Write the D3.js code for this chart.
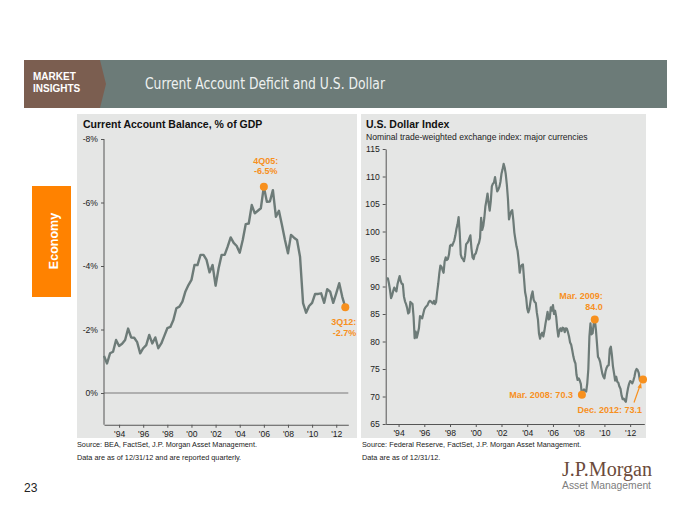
<!DOCTYPE html>
<html><head><meta charset="utf-8">
<script src="https://cdn.jsdelivr.net/npm/d3@7"></script>
<style>
body{margin:0;background:#fff}
svg{display:block}
text{font-family:"Liberation Sans",Arial,Helvetica,sans-serif}
</style>
</head><body>
<svg id="c" width="700" height="525"></svg>
<script>
// ---------- DATA ----------
// Current account balance, % of GDP, quarterly (first point 3Q92, last 3Q12)
const caFirstQuarter = {year: 1992, quarter: 3};
const caValues = [
 -1.17,-0.93,-1.25,-1.30,-1.67,-1.48,-1.55,-1.67,-2.03,-1.75,
 -1.74,-1.60,-1.25,-1.41,-1.51,-1.83,-1.56,-1.75,-1.41,-1.56,
 -1.80,-2.04,-2.08,-2.30,-2.67,-2.72,-2.88,-3.20,-3.40,-3.56,
 -4.03,-4.03,-4.35,-4.35,-4.19,-3.80,-4.03,-3.38,-3.93,-4.35,
 -4.35,-4.61,-4.90,-4.73,-4.63,-4.42,-4.82,-5.32,-5.34,-5.92,
 -5.66,-5.74,-5.82,-6.50,-6.02,-6.03,-6.39,-5.55,-5.74,-5.29,
 -4.82,-4.40,-4.98,-4.89,-4.82,-4.29,-2.83,-2.53,-2.74,-2.84,
 -3.12,-3.12,-3.14,-2.84,-3.27,-3.19,-2.84,-3.14,-3.46,-3.03,
 -2.70
];
const caYTicks = [-8, -6, -4, -2, 0];
const caAnnotations = [
  {lines: ["4Q05:", "-6.5%"], index: 53},
  {lines: ["3Q12:", "-2.7%"], index: 80}
];

// U.S. dollar index (major currencies), monthly Jan 1993 - Dec 2012
const usdFirstYear = 1993;
const usd1993 = [91.5,91.5,90.6,89.4,87.9,88.4,89.2,89.8,89.4,89.1,90.4,91.2];
const usd1994 = [91.9,91.0,90.5,90.4,88.2,87.3,86.8,86.1,85.1,85.3,87.2,87.0];
const usd1995 = [86.8,84.5,80.6,81.8,80.7,81.5,82.4,84.6,84.5,84.2,85.0,85.8];
const usd1996 = [86.2,86.4,86.6,87.1,87.4,87.3,87.1,86.9,87.4,86.8,87.2,89.0];
const usd1997 = [90.5,92.4,93.8,93.6,93.0,92.5,94.6,95.3,94.8,95.0,95.8,97.4];
const usd1998 = [97.6,97.4,97.9,98.4,99.3,100.5,101.3,102.6,99.9,95.8,95.2,95.0];
const usd1999 = [94.6,95.6,97.7,97.9,98.2,98.8,99.3,96.9,95.3,95.0,95.8,96.0];
const usd2000 = [96.7,97.5,97.9,98.8,102.5,100.3,101.0,102.5,104.6,105.7,106.9,105.1];
const usd2001 = [103.8,105.5,108.2,108.7,108.9,109.9,108.5,107.3,107.6,108.1,109.0,110.5];
const usd2002 = [111.3,112.3,111.6,110.4,108.5,106.0,102.2,103.0,103.6,103.9,102.1,99.8];
const usd2003 = [98.5,97.3,96.5,94.8,92.5,93.6,93.9,94.0,91.5,89.0,88.0,86.0];
const usd2004 = [85.3,85.9,87.2,88.4,89.1,87.6,87.2,87.0,85.2,84.0,81.4,80.5];
const usd2005 = [81.3,81.6,80.9,81.9,83.2,84.3,85.4,84.0,84.2,86.2,85.6,86.6];
const usd2006 = [85.0,85.6,84.5,82.4,80.9,82.0,82.4,81.9,82.5,82.4,81.7,82.4];
const usd2007 = [82.3,81.7,80.9,79.8,79.4,78.4,77.3,76.5,76.0,73.9,73.0,73.3];
const usd2008 = [72.9,72.3,70.3,71.0,71.3,71.0,70.9,72.4,75.0,80.9,83.3,81.3];
const usd2009 = [81.5,83.2,84.0,82.3,79.8,77.2,76.9,76.3,75.2,74.2,73.6,73.3];
const usd2010 = [74.5,75.2,75.6,75.7,78.6,79.05,77.5,75.4,74.2,72.9,73.6,72.7];
const usd2011 = [72.5,71.8,71.4,70.2,69.5,69.6,69.3,69.05,70.4,71.5,72.3,72.8];
const usd2012 = [72.7,72.4,72.9,73.6,74.6,75.0,74.8,74.3,73.0,72.8,73.2,73.1];
const usdYears = [usd1993,usd1994,usd1995,usd1996,usd1997,usd1998,usd1999,usd2000,
  usd2001,usd2002,usd2003,usd2004,usd2005,usd2006,usd2007,usd2008,usd2009,usd2010,usd2011,usd2012];
const usdYTicks = [65,70,75,80,85,90,95,100,105,110,115];
const usdAnnotations = [
  {text: ["Mar. 2008: 70.3"], year: 2008, month: 3},
  {text: ["Mar. 2009:", "84.0"], year: 2009, month: 3},
  {text: ["Dec. 2012: 73.1"], year: 2012, month: 12}
];

const yearTicks = [1994,1996,1998,2000,2002,2004,2006,2008,2010,2012];

// ---------- STYLE ----------
const LINE = "#6d7b78", ORANGE = "#f7901e", PANEL = "#e5e6e5";

const svg = d3.select("#c");

// Header
svg.append("rect").attr("x",24).attr("y",60).attr("width",643).attr("height",48).attr("fill","#6c7b78");
svg.append("path").attr("d","M24,60H100L106,84L100,108H24Z").attr("fill","#7b5e50");
svg.append("text").attr("x",33).attr("y",80).text("MARKET")
  .attr("fill","#fff").attr("font-size",10).attr("font-weight","bold");
svg.append("text").attr("x",33).attr("y",92).text("INSIGHTS")
  .attr("fill","#fff").attr("font-size",10).attr("font-weight","bold");
svg.append("text").attr("x",145).attr("y",89).text("Current Account Deficit and U.S. Dollar")
  .attr("fill","#eef1f0").attr("font-size",16)
  .style("font-family","'Liberation Sans Narrow','DejaVu Sans Condensed','Open Sans',sans-serif")
  .attr("textLength",240).attr("lengthAdjust","spacingAndGlyphs");

// Orange side tab
svg.append("rect").attr("x",32).attr("y",186).attr("width",39).attr("height",111).attr("fill","#ff8200");
svg.append("text").attr("transform","translate(58,241) rotate(-90)").attr("text-anchor","middle")
  .attr("fill","#fff").attr("font-size",12.5).attr("font-weight","bold").text("Economy");

// Panels
svg.append("rect").attr("x",77).attr("y",114).attr("width",280).attr("height",324).attr("fill",PANEL);
svg.append("rect").attr("x",361).attr("y",114).attr("width",285).attr("height",324).attr("fill",PANEL);

// ---------- LEFT CHART ----------
const caData = caValues.map((v,i) => ({
  t: caFirstQuarter.year + caFirstQuarter.quarter/4 + i/4, v
}));
const xCA = d3.scaleLinear().domain([1992.75, 2013.0]).range([104, 348.3]);
const yCA = d3.scaleLinear().domain([1, -8]).range([424.75, 139]);

const gL = svg.append("g");
gL.append("text").attr("x",83).attr("y",128).text("Current Account Balance, % of GDP")
  .attr("font-size",10.5).attr("font-weight","bold").attr("fill","#111");

gL.append("line").attr("x1",xCA.range()[0]).attr("x2",xCA.range()[1])
  .attr("y1",yCA(0)).attr("y2",yCA(0)).attr("stroke","#9c9c9c").attr("stroke-width",1.5);

const axYL = gL.append("g").attr("transform",`translate(${xCA.range()[0]},0)`)
  .call(d3.axisLeft(yCA).tickValues(caYTicks).tickFormat(d => d + "%").tickSize(3).tickSizeOuter(0));
axYL.select(".domain").attr("d",`M0,${yCA(-8)}V${yCA.range()[0]}`);
const axXL = gL.append("g").attr("transform",`translate(0,${yCA.range()[0]})`)
  .call(d3.axisBottom(xCA).tickValues(yearTicks).tickFormat(d => "'" + String(d).slice(2)).tickSize(3).tickSizeOuter(0));

gL.append("path").datum(caData)
  .attr("d", d3.line().x(d => xCA(d.t)).y(d => yCA(d.v)))
  .attr("fill","none").attr("stroke",LINE).attr("stroke-width",2.4).attr("stroke-linejoin","round");

caAnnotations.forEach((a, k) => {
  const d = caData[a.index];
  gL.append("circle").attr("cx",xCA(d.t)).attr("cy",yCA(d.v)).attr("r",4).attr("fill",ORANGE);
  const t = gL.append("text").attr("fill",ORANGE).attr("font-size",9).attr("font-weight","bold");
  if (k === 0) {
    t.attr("text-anchor","middle");
    a.lines.forEach((s,j) => t.append("tspan").attr("x",xCA(d.t)+2).attr("y",yCA(d.v)-23+j*10.5).text(s));
  } else {
    t.attr("text-anchor","end");
    a.lines.forEach((s,j) => t.append("tspan").attr("x",xCA(d.t)+11).attr("y",yCA(d.v)+18+j*11).text(s));
  }
});

gL.append("text").attr("x",77).attr("y",447).text("Source: BEA, FactSet, J.P. Morgan Asset Management.")
  .attr("font-size",7.3).attr("fill","#222");
gL.append("text").attr("x",77).attr("y",460).text("Data are as of 12/31/12 and are reported quarterly.")
  .attr("font-size",7.3).attr("fill","#222");

// ---------- RIGHT CHART ----------
const usdData = [];
usdYears.forEach((arr, yi) => arr.forEach((v, mi) => {
  usdData.push({year: usdFirstYear + yi, month: mi + 1, t: usdFirstYear + yi + (mi + 1)/12, v});
}));
const xUS = d3.scaleLinear().domain([1993.0, 2013.1]).range([385.7, 644.3]);
const yUS = d3.scaleLinear().domain([65, 115]).range([424, 149]);

const gR = svg.append("g");
gR.append("text").attr("x",366).attr("y",128).text("U.S. Dollar Index")
  .attr("font-size",10.5).attr("font-weight","bold").attr("fill","#111");
gR.append("text").attr("x",366).attr("y",140).text("Nominal trade-weighted exchange index: major currencies")
  .attr("font-size",8.6).attr("fill","#222");

gR.append("g").attr("transform",`translate(${xUS.range()[0]},0)`)
  .call(d3.axisLeft(yUS).tickValues(usdYTicks).tickSize(3).tickSizeOuter(0));
gR.append("g").attr("transform",`translate(0,${yUS.range()[0]})`)
  .call(d3.axisBottom(xUS).tickValues(yearTicks).tickFormat(d => "'" + String(d).slice(2)).tickSize(3).tickSizeOuter(0));

gR.append("path").datum(usdData)
  .attr("d", d3.line().x(d => xUS(d.t)).y(d => yUS(d.v)))
  .attr("fill","none").attr("stroke",LINE).attr("stroke-width",2.2).attr("stroke-linejoin","round");

usdAnnotations.forEach((a, k) => {
  const d = usdData.find(p => p.year === a.year && p.month === a.month);
  const cx = xUS(d.t), cy = yUS(d.v);
  const t = gR.append("text").attr("fill",ORANGE).attr("font-size",9).attr("font-weight","bold");
  if (k === 0) {
    t.attr("text-anchor","end").append("tspan").attr("x",cx-9).attr("y",cy+3.5).text(a.text[0]);
  } else if (k === 1) {
    t.attr("text-anchor","end");
    a.text.forEach((s,j) => t.append("tspan").attr("x",cx+8).attr("y",cy-21+j*11).text(s));
  } else {
    t.attr("text-anchor","end").append("tspan").attr("x",cx-1).attr("y",cy+34).text(a.text[0]);
    gR.append("line").attr("x1",cx-9).attr("y1",cy+23).attr("x2",cx-3).attr("y2",cy+6)
      .attr("stroke",ORANGE).attr("stroke-width",1.2);
    gR.append("path").attr("d",`M${cx-2},${cy+3}L${cx-5.5},${cy+8}L${cx-1.3},${cy+9}Z`).attr("fill",ORANGE);
  }
  gR.append("circle").attr("cx",cx).attr("cy",cy).attr("r",4).attr("fill",ORANGE);
});

gR.append("text").attr("x",362).attr("y",447).text("Source: Federal Reserve, FactSet, J.P. Morgan Asset Management.")
  .attr("font-size",7.3).attr("fill","#222");
gR.append("text").attr("x",362).attr("y",460).text("Data are as of 12/31/12.")
  .attr("font-size",7.3).attr("fill","#222");

// axis styling
svg.selectAll(".tick text").attr("font-size",8.6).attr("fill","#222")
  .style("font-family","'Liberation Sans',Arial,sans-serif");
svg.selectAll(".domain").attr("stroke","#555");
svg.selectAll(".tick line").attr("stroke","#555");

// Footer
svg.append("text").attr("x",24).attr("y",492).text("23").attr("font-size",12).attr("fill","#222");
svg.append("text").attr("x",562).attr("y",476).text("J.P.Morgan")
  .style("font-family","'Liberation Serif','DejaVu Serif',serif").attr("font-size",20).attr("fill","#6b4a3a")
  .attr("textLength",90).attr("lengthAdjust","spacingAndGlyphs");
svg.append("text").attr("x",562).attr("y",489).text("Asset Management")
  .attr("font-size",11).attr("fill","#7d7d7d").attr("textLength",89).attr("lengthAdjust","spacingAndGlyphs");
</script>
</body></html>
